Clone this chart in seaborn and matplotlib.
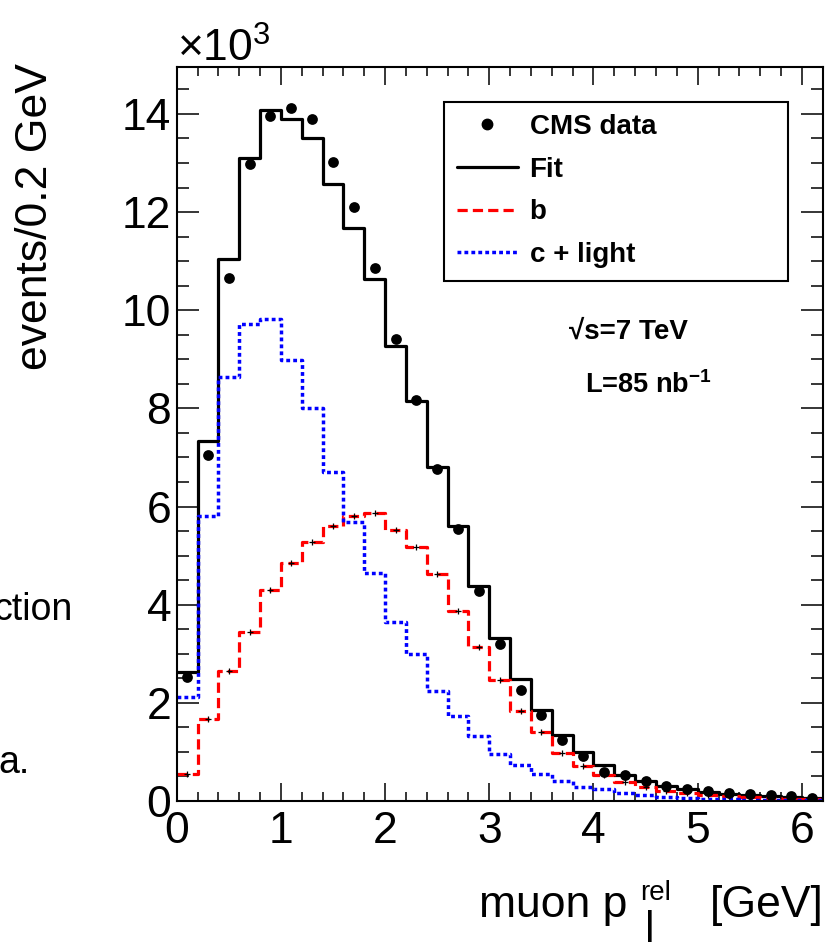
import numpy as np
import pandas as pd
import matplotlib
matplotlib.use("Agg")
import matplotlib.pyplot as plt
from matplotlib.lines import Line2D
from matplotlib.ticker import MultipleLocator
import seaborn as sns

# ---- data (events per 0.2 GeV, in units of 10^3) ----
bin_width = 0.2
x_range = (0.0, 6.2)
cms_data = [2.53, 7.04, 10.65, 12.97, 13.95, 14.13, 13.90, 13.03, 12.10, 10.86,
            9.42, 8.17, 6.76, 5.54, 4.27, 3.20, 2.26, 1.75, 1.24, 0.92,
            0.60, 0.53, 0.41, 0.31, 0.24, 0.20, 0.16, 0.14, 0.12, 0.10, 0.07]
fit_total = [2.63, 7.34, 11.05, 13.10, 14.07, 13.90, 13.51, 12.57, 11.68, 10.64,
             9.27, 8.15, 6.80, 5.61, 4.38, 3.33, 2.48, 1.85, 1.34, 1.00,
             0.73, 0.52, 0.40, 0.31, 0.24, 0.18, 0.14, 0.12, 0.10, 0.08, 0.07]
b_component = [0.56, 1.68, 2.65, 3.45, 4.30, 4.85, 5.28, 5.60, 5.81, 5.86,
               5.52, 5.18, 4.62, 3.87, 3.14, 2.46, 1.84, 1.40, 0.98, 0.72,
               0.53, 0.39, 0.29, 0.21, 0.17, 0.13, 0.10, 0.08, 0.07, 0.05, 0.04]
c_light_component = [2.12, 5.81, 8.64, 9.71, 9.83, 8.98, 8.00, 6.71, 5.68, 4.65,
                     3.65, 2.99, 2.25, 1.74, 1.32, 0.95, 0.73, 0.55, 0.41, 0.29,
                     0.24, 0.16, 0.12, 0.09, 0.07, 0.05, 0.04, 0.03, 0.03, 0.02, 0.02]
legend_labels = ["CMS data", "Fit", "b", "c + light"]
x_ticks = [0, 1, 2, 3, 4, 5, 6]
y_ticks = [0, 2, 4, 6, 8, 10, 12, 14]

n_bins = len(cms_data)
centers = x_range[0] + bin_width * (np.arange(n_bins) + 0.5)
df = pd.DataFrame({"pt": centers, "data": cms_data, "fit": fit_total,
                   "b": b_component, "c": c_light_component})

# ---- style ----
sns.set_theme(style="ticks")
plt.rcParams["font.family"] = ["Liberation Sans", "DejaVu Sans"]
plt.rcParams["text.color"] = "black"
plt.rcParams["axes.labelcolor"] = "black"
plt.rcParams["xtick.color"] = "black"
plt.rcParams["ytick.color"] = "black"
plt.rcParams["mathtext.fontset"] = "custom"
plt.rcParams["mathtext.rm"] = "Liberation Sans"
plt.rcParams["mathtext.it"] = "Liberation Sans:italic"
plt.rcParams["mathtext.bf"] = "Liberation Sans:bold"
plt.rcParams["mathtext.sf"] = "Liberation Sans"

W, H = 825, 942
fig = plt.figure(figsize=(W / 100, H / 100), dpi=100)
fig.patch.set_facecolor("white")
ax_l, ax_r, ax_b, ax_t = 176.7, 822.7, 801.0, 67.3
ax = fig.add_axes([ax_l / W, (H - ax_b) / H, (ax_r - ax_l) / W, (ax_b - ax_t) / H])
ax.set_facecolor("white")

lw = 2.3
red_dash = (3.2, 1.6)
blue_dot = (1.1, 0.9)

hist_kw = dict(data=df, x="pt", binwidth=bin_width, binrange=x_range,
               element="step", fill=False, ax=ax)
sns.histplot(weights="fit", color="black", linewidth=lw, **hist_kw)
sns.histplot(weights="b", color="#ff0000", linewidth=lw, **hist_kw)
ax.lines[-1].set_dashes(red_dash)
# small black error markers on the b template
sns.scatterplot(data=df, x="pt", y="b", marker="+", s=14, color="black",
                linewidth=0.9, ax=ax, zorder=4)
sns.histplot(weights="c", color="#0000ff", linewidth=2.5, **hist_kw)
ax.lines[-1].set_dashes(blue_dot)
sns.scatterplot(data=df, x="pt", y="data", color="black", s=60, linewidth=0,
                ax=ax, zorder=5)

ax.set_xlim(*x_range)
ax.set_ylim(0, 14.95)
ax.set_xticks(x_ticks)
ax.set_yticks(y_ticks)
ax.set_xticklabels([str(v) for v in x_ticks])
ax.set_yticklabels([str(v) for v in y_ticks])
ax.xaxis.set_minor_locator(MultipleLocator(0.2))
ax.yaxis.set_minor_locator(MultipleLocator(0.5))
ax.set_xlabel("")
ax.set_ylabel("")
for s in ax.spines.values():
    s.set_visible(True)
    s.set_linewidth(1.5)
    s.set_color("black")
ax.tick_params(which="both", direction="in", top=True, right=True,
               width=1.1, color="black", labelsize=32, labelcolor="black")
ax.tick_params(axis="x", which="major", length=13, pad=7)
ax.tick_params(axis="x", which="minor", length=6.5)
ax.tick_params(axis="y", which="major", length=16, pad=4)
ax.tick_params(axis="y", which="minor", length=8.3)

# ---- legend ----
handles = [
    Line2D([], [], color="black", marker="o", linestyle="none", markersize=7.5),
    Line2D([], [], color="black", linewidth=lw),
    Line2D([], [], color="#ff0000", linewidth=lw, dashes=red_dash),
    Line2D([], [], color="#0000ff", linewidth=2.5, dashes=blue_dot),
]
x0 = (444 - ax_l) / (ax_r - ax_l)
x1 = (788 - ax_l) / (ax_r - ax_l)
y1 = (ax_b - 102.3) / (ax_b - ax_t)
leg = ax.legend(handles, legend_labels, loc="upper left",
                bbox_to_anchor=(x0, y1 + 0.001, x1 - x0, 0.0), mode="expand",
                prop={"family": "Liberation Sans", "weight": "bold", "size": 20},
                frameon=True, fancybox=False, shadow=False, framealpha=1,
                edgecolor="black", borderpad=0.45, labelspacing=0.6,
                handlelength=2.23, handletextpad=0.4, borderaxespad=0)
leg.get_frame().set_linewidth(1.5)
for t in leg.get_texts():
    t.set_color("black")

# ---- annotations ----
def px(x, y):
    return x / W, (H - y) / H

fig.text(*px(628, 332), "√s=7 TeV", ha="center", va="center", fontsize=20,
         fontweight="bold", family=["Liberation Sans", "DejaVu Sans"])
fig.text(*px(648, 385), r"L=85 nb$^{\mathbf{-1}}$", ha="center", va="center",
         fontsize=19.5, fontweight="bold")
fig.text(*px(177, 61.5), r"×10$^{3}$", ha="left", va="baseline", fontsize=32)
fig.text(*px(36, 63), "events/0.2 GeV", rotation=90, ha="center", va="top",
         fontsize=32)

# x-axis title built from pieces: "muon p", superscript "rel", subscript bar, "[GeV]"
fig.text(*px(479, 917), "muon p", ha="left", va="baseline", fontsize=32)
fig.text(*px(640, 900), "rel", ha="left", va="baseline", fontsize=20)
fig.text(*px(650, 910), "|", ha="center", va="top", fontsize=32)
fig.text(*px(824, 917), "[GeV]", ha="right", va="baseline", fontsize=32)

# cropped slide text fragments at the left edge
fig.text(*px(73, 620), "ction", ha="right", va="baseline", fontsize=27)
fig.text(*px(30, 773), "a.", ha="right", va="baseline", fontsize=27)

fig.savefig("out.png", dpi=100, facecolor="white")
